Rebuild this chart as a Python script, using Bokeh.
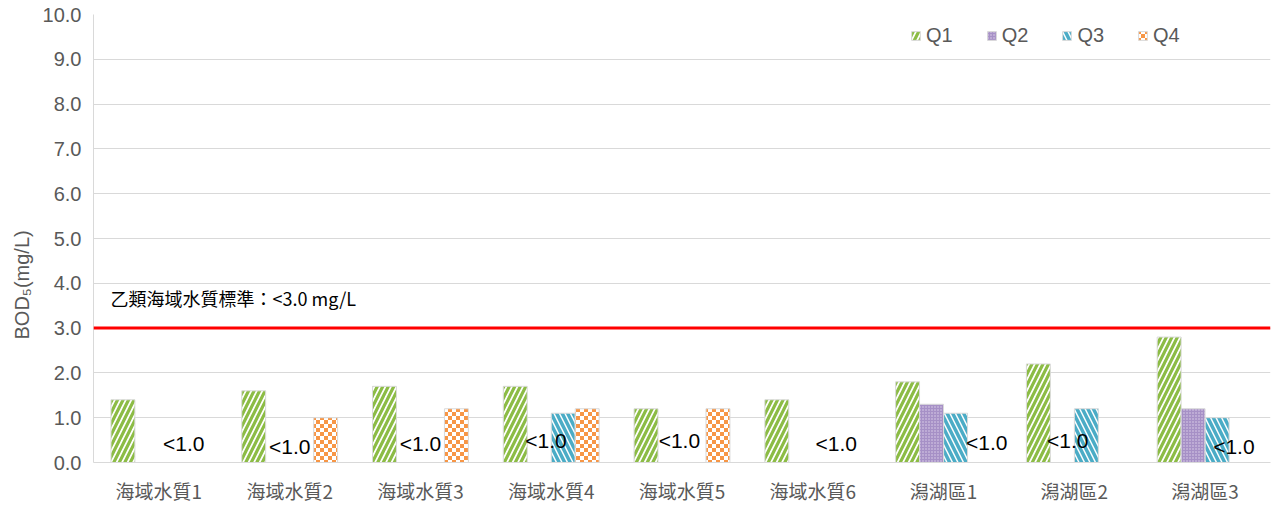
import base64
from bokeh.plotting import figure
from bokeh.models import Span, Label, Title, FixedTicker, NumeralTickFormatter, ImageURLTexture, ColumnDataSource, Legend, LegendItem
from bokeh.core.properties import value
from bokeh.embed import file_html
from bokeh.resources import INLINE

# ---- data ----
categories = ["海域水質1", "海域水質2", "海域水質3", "海域水質4", "海域水質5",
              "海域水質6", "潟湖區1", "潟湖區2", "潟湖區3"]
quarters = ["Q1", "Q2", "Q3", "Q4"]
q1 = [1.4, 1.6, 1.7, 1.7, 1.2, 1.4, 1.8, 2.2, 2.8]
q2 = [None, None, None, None, None, None, 1.3, None, 1.2]
q3 = [None, None, None, 1.1, None, None, 1.1, 1.2, 1.0]
q4 = [None, 1.0, 1.2, 1.2, 1.2, None, None, None, None]
below_text = ["<1.0"] * 9
standard_value = 3.0
standard_text = "乙類海域水質標準：<3.0 mg/L"
y_title = "BOD₅(mg/L)"
y_ticks = [0, 1, 2, 3, 4, 5, 6, 7, 8, 9, 10]

# ---- layout (positions, not data) ----
q_offsets = [-0.275, -0.092, 0.092, 0.275]
bar_w = 0.183
lbl_dx = [0.19, 0.0, 0.0, -0.04, -0.02, 0.18, 0.33, -0.05, 0.22]
lbl_y = [0.42, 0.36, 0.42, 0.49, 0.49, 0.42, 0.44, 0.49, 0.36]

GRAY = "#595959"
p = figure(width=1272, height=506, x_range=(0, 9), y_range=(0, 10),
           output_backend="svg", toolbar_location=None,
           min_border_left=93, min_border_right=2, min_border_top=14, min_border_bottom=43)
p.outline_line_color = None
p.xgrid.grid_line_color = None
p.ygrid.grid_line_color = "#d9d9d9"
p.ygrid.grid_line_width = 1

p.yaxis.ticker = FixedTicker(ticks=y_ticks)
p.yaxis.formatter = NumeralTickFormatter(format="0.0")
p.yaxis.major_tick_line_color = None
p.yaxis.minor_tick_line_color = None
p.yaxis.axis_line_color = "#d9d9d9"
p.yaxis.major_label_text_font = "Liberation Sans"
p.yaxis.major_label_text_font_size = "20px"
p.yaxis.major_label_text_color = GRAY
p.yaxis.major_label_standoff = 6

p.xaxis.ticker = FixedTicker(ticks=[i + 0.5 for i in range(9)])
p.xaxis.major_label_overrides = {i + 0.5: c for i, c in enumerate(categories)}
p.xaxis.major_tick_line_color = None
p.xaxis.minor_tick_line_color = None
p.xaxis.axis_line_color = "#d9d9d9"
p.xaxis.major_label_text_font = "Noto Sans CJK TC"
p.xaxis.major_label_text_font_size = "19px"
p.xaxis.major_label_text_color = GRAY
p.xaxis.major_label_standoff = 8

checker_svg = ('<svg xmlns="http://www.w3.org/2000/svg" width="8" height="8">'
               '<rect width="8" height="8" fill="#ffffff"/>'
               '<rect width="4" height="4" fill="#f79646"/>'
               '<rect x="4" y="4" width="4" height="4" fill="#f79646"/></svg>')
checker_url = "data:image/svg+xml;base64," + base64.b64encode(checker_svg.encode()).decode()
tex = ImageURLTexture(url=checker_url, repetition="repeat")

styles = [
    dict(fill_color="white", hatch_pattern="right_diagonal_line", hatch_color="#8cbc45",
         hatch_scale=11, hatch_weight=3.2),
    dict(fill_color="#a690c6", hatch_pattern="dot", hatch_color="#ddd3ea",
         hatch_scale=3, hatch_weight=1),
    dict(fill_color="white", hatch_pattern="left_diagonal_line", hatch_color="#4bacc6",
         hatch_scale=11, hatch_weight=3.5),
    dict(fill_color="white", hatch_pattern=dict(value="c"), hatch_extra={"c": tex}),
]

items = []
for qi, (qname, vals) in enumerate(zip(quarters, [q1, q2, q3, q4])):
    xs = [i + 0.5 + q_offsets[qi] for i, v in enumerate(vals) if v is not None]
    ys = [v for v in vals if v is not None]
    src = ColumnDataSource(dict(x=xs, top=ys))
    r = p.vbar(x="x", top="top", width=bar_w, source=src, line_color="#d9d9d9",
               line_width=1, **styles[qi])
    items.append(LegendItem(label=qname, renderers=[r]))

legend = Legend(items=items, orientation="horizontal", location=(817, 415),
                glyph_width=11, glyph_height=11, label_standoff=5, spacing=33,
                label_text_font="Liberation Sans", label_text_font_size="20px",
                label_text_color=GRAY, border_line_color=None, background_fill_alpha=0)
p.add_layout(legend, "center")

p.add_layout(Span(location=standard_value, dimension="width", line_color="#ff0000", line_width=3))
p.add_layout(Label(x=0.13, y=3.67, text=standard_text, text_baseline="middle",
                   text_font="Noto Sans CJK TC", text_font_size="18px", text_color="black"))

# y-axis title, placed lower than centre as in the reference
p.add_layout(Title(text=y_title, align="left", offset=123, standoff=14,
                   text_font="Liberation Sans", text_font_size="20px",
                   text_font_style="normal", text_color=GRAY), "left")

lsrc = ColumnDataSource(dict(x=[i + 0.5 + d for i, d in enumerate(lbl_dx)], y=lbl_y, t=below_text))
p.text(x="x", y="y", text="t", source=lsrc, text_align="center", text_baseline="middle",
       text_font=value("Liberation Sans"), text_font_size="21px", text_color="black")

open("out.html", "w").write(file_html(p, INLINE))
